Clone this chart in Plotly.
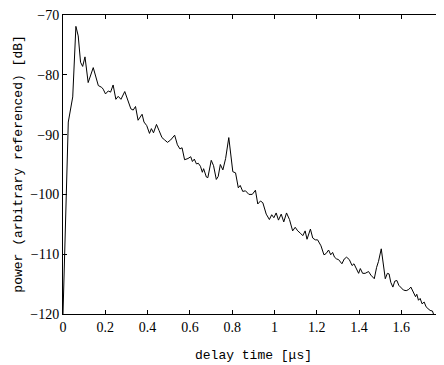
import plotly.graph_objects as go

delay_us = [0.0, 0.004, 0.0175, 0.025, 0.046, 0.061, 0.072, 0.083, 0.093, 0.104,
            0.119, 0.143, 0.167, 0.183, 0.190, 0.201, 0.214, 0.225, 0.237, 0.250,
            0.261, 0.274, 0.292, 0.308, 0.321, 0.332, 0.343, 0.355, 0.374, 0.383,
            0.396, 0.409, 0.418, 0.428, 0.442, 0.454, 0.468, 0.481, 0.494, 0.509,
            0.528, 0.541, 0.553, 0.563, 0.575, 0.591, 0.604, 0.612, 0.621, 0.631,
            0.640, 0.650, 0.659, 0.665, 0.678, 0.685, 0.701, 0.712, 0.725, 0.734,
            0.744, 0.756, 0.769, 0.784, 0.794, 0.803, 0.816, 0.829, 0.838, 0.850,
            0.863, 0.879, 0.895, 0.910, 0.921, 0.934, 0.945, 0.961, 0.976, 0.987,
            0.997, 1.008, 1.019, 1.032, 1.044, 1.057, 1.071, 1.086, 1.098, 1.110,
            1.123, 1.134, 1.145, 1.154, 1.170, 1.181, 1.193, 1.204, 1.220, 1.234,
            1.244, 1.256, 1.266, 1.275, 1.284, 1.294, 1.303, 1.319, 1.330, 1.341,
            1.354, 1.367, 1.376, 1.385, 1.398, 1.406, 1.417, 1.429, 1.445, 1.456,
            1.472, 1.483, 1.492, 1.505, 1.514, 1.524, 1.534, 1.542, 1.550, 1.560,
            1.569, 1.579, 1.588, 1.598, 1.610, 1.623, 1.635, 1.645, 1.657, 1.667,
            1.673, 1.681, 1.689, 1.698, 1.708, 1.717, 1.726, 1.736, 1.747, 1.752]

power_db = [-120.0, -114.0, -95.6, -87.9, -83.7, -71.9, -73.5, -77.9, -78.6, -77.0,
            -81.3, -78.8, -81.8, -82.1, -82.4, -83.2, -82.7, -82.9, -81.7, -84.1,
            -83.6, -84.1, -82.8, -84.6, -85.7, -85.9, -85.3, -87.6, -86.6, -87.9,
            -88.5, -89.8, -89.0, -89.7, -88.3, -89.3, -90.5, -90.9, -91.3, -90.9,
            -90.1, -91.7, -92.4, -92.2, -94.2, -94.0, -93.7, -94.5, -94.1, -94.9,
            -94.8, -95.3, -96.3, -95.7, -97.1, -97.2, -94.3, -95.2, -97.5, -97.0,
            -95.0, -95.9, -94.0, -90.5, -93.4, -96.2, -96.4, -98.9, -98.5, -99.5,
            -99.4, -100.0, -100.0, -99.3, -101.6, -101.1, -101.4, -103.3, -104.2, -103.4,
            -103.9, -103.1, -104.3, -103.3, -104.6, -103.1, -104.2, -106.1, -105.5, -106.1,
            -106.5, -106.9, -106.1, -107.5, -105.8, -107.3, -107.6, -107.6, -108.6, -110.1,
            -109.9, -109.3, -110.1, -109.7, -110.5, -110.8, -110.9, -111.6, -110.8, -110.5,
            -110.9, -111.9, -111.6, -112.2, -113.2, -112.4, -113.2, -113.2, -112.9, -113.5,
            -114.1, -112.2, -111.2, -109.1, -111.6, -114.1, -113.2, -113.3, -114.7, -115.5,
            -114.5, -114.4, -115.2, -115.5, -116.0, -116.1, -115.9, -115.5, -116.3, -117.1,
            -116.7, -117.7, -117.4, -118.3, -118.0, -118.8, -119.1, -119.4, -119.5, -120.0]

xtick_vals = [0, 0.2, 0.4, 0.6, 0.8, 1.0, 1.2, 1.4, 1.6]
xtick_text = ["0", "0.2", "0.4", "0.6", "0.8", "1", "1.2", "1.4", "1.6"]
ytick_vals = [-120, -110, -100, -90, -80, -70]

x_label = "delay time [\u03bcs]"
y_label = "power (arbitrary referenced) [dB]"

SERIF = "Liberation Serif, Times New Roman, serif"
MONO = "Liberation Mono, Courier New, monospace"

fig = go.Figure()
fig.add_trace(go.Scatter(x=delay_us, y=power_db, mode="lines",
                         line=dict(color="black", width=1), showlegend=False))

axis_common = dict(showline=True, linecolor="black", linewidth=1, mirror="ticks",
                   ticks="inside", ticklen=4, tickwidth=1, tickcolor="black",
                   showgrid=False, zeroline=False, ticklabeloverflow="allow",
                   tickfont=dict(family=SERIF, size=14, color="black"))

fig.update_xaxes(range=[0, 1.797], tickvals=xtick_vals, ticktext=xtick_text, **axis_common)
fig.update_yaxes(range=[-120, -70], tickvals=ytick_vals, **axis_common)

# page body has an 8px margin: figure origin is at (8, 8) in the window
fig.add_annotation(text=x_label, xref="paper", yref="paper", x=0.5, y=-0.14,
                   xanchor="center", yanchor="middle", showarrow=False,
                   font=dict(family=MONO, size=13, color="black"))
fig.add_annotation(text=y_label, xref="paper", yref="paper", x=-0.118, y=0.5,
                   xanchor="center", yanchor="middle", textangle=-90, showarrow=False,
                   font=dict(family=MONO, size=13, color="black"))

fig.update_layout(width=436, height=357,
                  margin=dict(l=55, r=0, t=4, b=51),
                  paper_bgcolor="white", plot_bgcolor="white")

fig.write_html("out.html")
